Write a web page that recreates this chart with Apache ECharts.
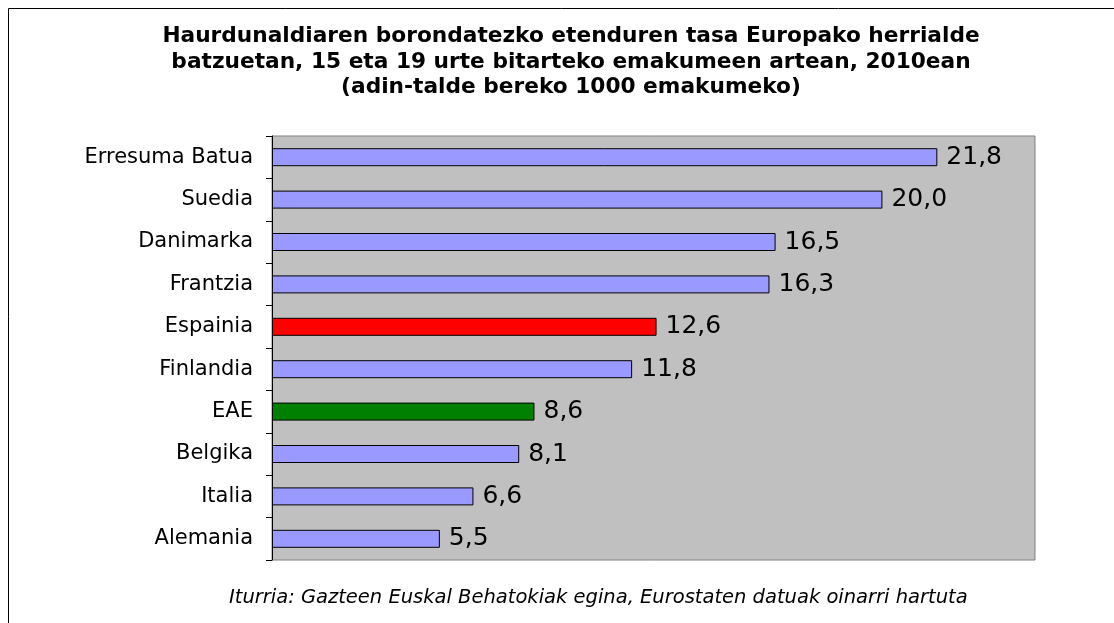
<!DOCTYPE html>
<html>
<head>
<meta charset="utf-8">
<script src="https://cdn.jsdelivr.net/npm/echarts@6/dist/echarts.min.js"></script>
<style>html,body{margin:0;padding:0;background:#fff}#c{width:1114px;height:623px}</style>
</head>
<body>
<div id="c"></div>
<script>
const categories = ["Erresuma Batua","Suedia","Danimarka","Frantzia","Espainia","Finlandia","EAE","Belgika","Italia","Alemania"];
const values = [21.8, 20.0, 16.5, 16.3, 12.6, 11.8, 8.6, 8.1, 6.6, 5.5];
const barColors = ["#9999FF","#9999FF","#9999FF","#9999FF","#FF0000","#9999FF","#008000","#9999FF","#9999FF","#9999FF"];
const titleText = "Haurdunaldiaren borondatezko etenduren tasa Europako herrialde\nbatzuetan, 15 eta 19 urte bitarteko emakumeen artean, 2010ean\n(adin-talde bereko 1000 emakumeko)";
const sourceText = "Iturria: Gazteen Euskal Behatokiak egina, Eurostaten datuak oinarri hartuta";

const chart = echarts.init(document.getElementById('c'), null, {renderer:'canvas'});
chart.setOption({
  animation: false,
  backgroundColor: '#ffffff',
  title: {
    text: titleText,
    left: 566, top: 19, textAlign: 'center',
    textStyle: {fontFamily: 'DejaVu Sans', fontWeight: 'bold', fontSize: 21.7, lineHeight: 25.5, color: '#000'}
  },
  graphic: [
    {type:'rect', shape:{x:8.5,y:8.5,width:1200,height:700}, style:{fill:'none', stroke:'#000', lineWidth:1}, silent:true},
    {type:'text', left: 229, top: 588, style:{text: sourceText, font: 'italic 19.5px "DejaVu Sans"', fill:'#000'}}
  ],
  grid: {left: 272, right: 79, top: 136, bottom: 63, show: true, backgroundColor: '#C0C0C0', borderColor: '#808080', borderWidth: 1},
  xAxis: {type:'value', min:0, max:25, show:false, splitLine:{show:false}},
  yAxis: {
    type:'category', data: categories, inverse: true,
    axisLine:{show:true, lineStyle:{color:'#000', width:1}},
    axisTick:{show:true, length:6, lineStyle:{color:'#000'}},
    axisLabel:{fontFamily:'DejaVu Sans', fontSize:21, color:'#000', margin:19}
  },
  series: [{
    type:'bar',
    data: values.map((v,i)=>({value:v, itemStyle:{color:barColors[i]}})),
    barWidth: 18,
    itemStyle:{borderColor:'#000', borderWidth:1},
    label:{show:true, position:'right', distance:9, fontFamily:'DejaVu Sans', fontSize:25, color:'#000',
      formatter: p => p.value.toFixed(1).replace('.', ',')}
  }]
});
</script>
</body>
</html>
